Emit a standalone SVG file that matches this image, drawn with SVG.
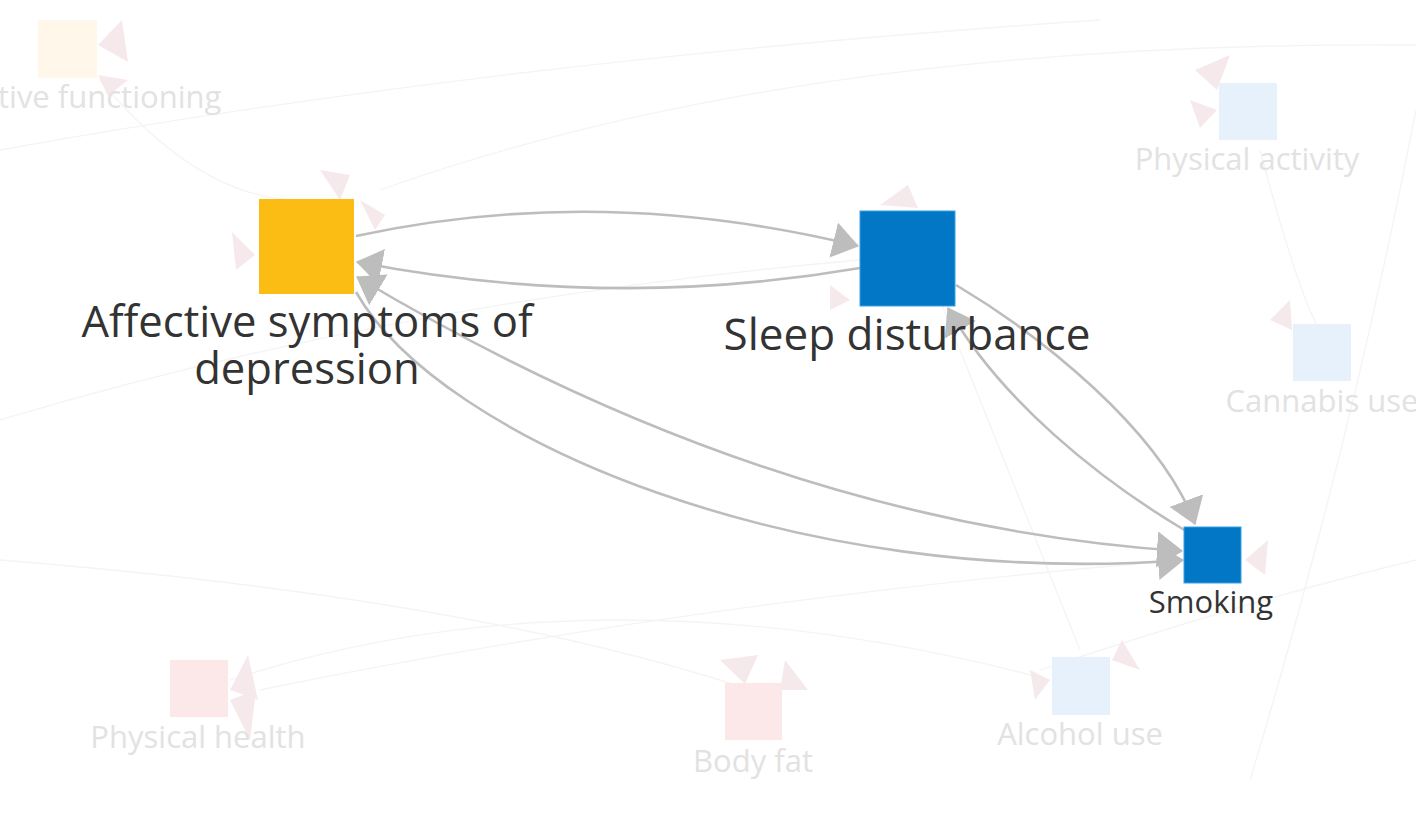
<svg xmlns="http://www.w3.org/2000/svg" width="1416" height="814" viewBox="0 0 1416 814">
<defs>
<style>
.edge{fill:none;stroke:#BDBDBD;stroke-width:2.6}
.faint{fill:none;stroke:#F4F4F4;stroke-width:1.3}
.lbl{font-family:"Open Sans","Liberation Sans",sans-serif;fill:#333333;text-anchor:middle}
.flbl{font-family:"Open Sans","Liberation Sans",sans-serif;fill:#E2E2E2;text-anchor:middle;font-size:31px}
.fy{fill:#FEF7EA}
.fb{fill:#E7F1FB}
.fp{fill:#FDE8E9}
.fa{fill:#F6E9EC}
</style>
<marker id="arrow" viewBox="0 0 26 36" refX="25" refY="18" markerWidth="26" markerHeight="36" markerUnits="userSpaceOnUse" orient="auto-start-reverse">
<path d="M0,0 L26,18 L0,36 Z" fill="#BDBDBD"/>
</marker>
</defs>
<rect width="1416" height="814" fill="#FFFFFF"/>

<g id="background-faint">
<path class="faint" d="M380,190 Q800,40 1416,45"/>
<path class="faint" d="M0,150 Q500,60 1100,20"/>
<path class="faint" d="M0,420 Q400,300 860,260"/>
<path class="faint" d="M230,680 Q600,560 1050,680"/>
<path class="faint" d="M260,690 Q700,600 1180,560"/>
<path class="faint" d="M0,560 Q500,600 780,700"/>
<path class="faint" d="M1040,670 Q1250,600 1416,560"/>
<path class="faint" d="M1260,150 Q1300,300 1320,330"/>
<path class="faint" d="M1416,110 Q1350,450 1250,780"/>
<path class="faint" d="M100,80 Q200,200 300,200"/>
<path class="faint" d="M1080,650 Q1000,450 940,300"/>
<polygon class="fa" points="98,45 122,20 128,62"/>
<polygon class="fa" points="98,75 128,80 108,96"/>
<polygon class="fa" points="1217,90 1195,70 1230,55"/>
<polygon class="fa" points="1217,110 1190,100 1200,128"/>
<polygon class="fa" points="230,690 248,655 258,700"/>
<polygon class="fa" points="230,700 250,740 256,690"/>
<polygon class="fa" points="720,660 758,655 745,684"/>
<polygon class="fa" points="785,660 808,690 780,690"/>
<polygon class="fa" points="1112,660 1122,640 1140,670"/>
<polygon class="fa" points="1050,680 1030,670 1035,700"/>
<polygon class="fa" points="1245,560 1268,540 1265,575"/>
<polygon class="fa" points="255,255 232,232 236,270"/>
<polygon class="fa" points="320,170 350,175 340,200"/>
<polygon class="fa" points="360,200 385,215 375,230"/>
<polygon class="fa" points="880,205 908,185 918,208"/>
<polygon class="fa" points="830,285 850,300 830,310"/>
<polygon class="fa" points="1270,320 1290,300 1292,330"/>
</g>

<g id="faded-nodes">
<g id="node-functioning"><rect class="fy" x="38" y="20" width="59" height="58"/><text class="flbl" x="-2" y="108" style="text-anchor:start">tive functioning</text></g>
<g id="node-physical-activity"><rect class="fb" x="1219" y="83" width="58" height="57"/><text class="flbl" x="1247" y="170">Physical activity</text></g>
<g id="node-cannabis"><rect class="fb" x="1293" y="324" width="58" height="57"/><text class="flbl" x="1322" y="412">Cannabis use</text></g>
<g id="node-physical-health"><rect class="fp" x="170" y="660" width="58" height="57"/><text class="flbl" x="198" y="748">Physical health</text></g>
<g id="node-body-fat"><rect class="fp" x="725" y="683" width="57" height="57"/><text class="flbl" x="753" y="772">Body fat</text></g>
<g id="node-alcohol"><rect class="fb" x="1052" y="657" width="58" height="58"/><text class="flbl" x="1080" y="745">Alcohol use</text></g>
</g>

<g id="connectors">
<path class="edge" d="M356,236 Q600,183 858,246" marker-end="url(#arrow)"/>
<path class="edge" d="M860,268 Q610,311 357,262" marker-end="url(#arrow)"/>
<path class="edge" d="M357,277 Q770,524 1182,551" marker-start="url(#arrow)" marker-end="url(#arrow)"/>
<path class="edge" d="M356,292 C440,440 800,590 1183,560" marker-end="url(#arrow)"/>
<path class="edge" d="M956,285 C1040,335 1160,430 1195,524" marker-end="url(#arrow)"/>
<path class="edge" d="M1186,531 C1100,480 1000,400 948,308" marker-end="url(#arrow)"/>
</g>

<g id="node-affective">
<rect x="259" y="199" width="95" height="95" fill="#FBBC14"/>
<text class="lbl" font-size="43.6"><tspan x="307" y="337">Affective symptoms of</tspan><tspan x="307" y="384">depression</tspan></text>
</g>
<g id="node-sleep">
<rect x="860" y="211" width="95" height="95" fill="#0277C6" stroke="#3AA2E4" stroke-width="1"/>
<text class="lbl" x="907" y="350" font-size="44">Sleep disturbance</text>
</g>
<g id="node-smoking">
<rect x="1184" y="527" width="57" height="56" fill="#0277C6" stroke="#3AA2E4" stroke-width="1"/>
<text class="lbl" x="1211" y="613" font-size="31">Smoking</text>
</g>
</svg>
